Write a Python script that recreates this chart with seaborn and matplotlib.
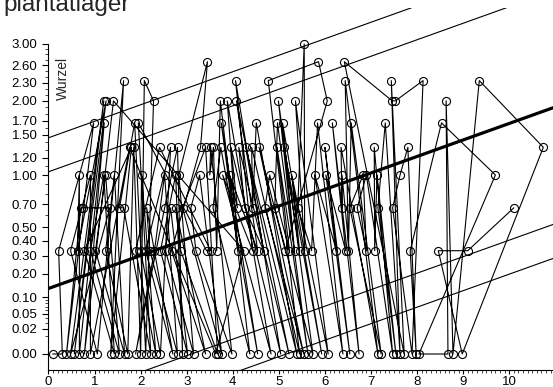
import numpy as np
import pandas as pd
import matplotlib
matplotlib.use("Agg")
import matplotlib.pyplot as plt
import seaborn as sns

title = "plantatlager"
y_name = "Wurzel"

# observations in recording order: time and root score
obs_x = [
    0.09, 0.30, 0.22, 0.98, 0.39, 0.70, 0.74, 1.33, 0.48, 1.20,
    0.56, 1.25, 0.63, 0.67, 0.67, 1.21, 0.78, 1.41, 4.24, 3.63,
    1.76, 0.91, 0.91, 0.48, 1.06, 1.63, 1.35, 1.80, 0.78, 1.43,
    1.20, 0.91, 1.54, 1.24, 1.02, 1.65, 1.43, 1.24, 1.72, 1.85,
    2.00, 2.08, 2.28, 2.11, 1.87, 1.54, 1.63, 2.22, 1.95, 3.43,
    3.52, 2.41, 1.89, 2.33, 2.02, 2.00, 2.43, 2.65, 2.11, 2.70,
    2.13, 2.20, 2.80, 2.52, 2.30, 1.89, 2.52, 2.80, 2.91, 2.76,
    2.43, 3.02, 2.65, 2.54, 3.15, 2.83, 3.45, 3.30, 2.67, 3.41,
    2.76, 2.87, 3.67, 3.41, 2.91, 3.76, 3.28, 3.09, 3.20, 3.98,
    3.52, 3.50, 3.58, 3.65, 3.73, 4.37, 3.57, 3.74, 4.54, 3.75,
    4.11, 3.88, 4.83, 3.78, 4.43, 4.06, 5.04, 3.96, 4.10, 3.93,
    4.54, 4.08, 5.22, 4.13, 4.26, 4.67, 4.28, 5.39, 4.51, 4.43,
    4.41, 5.45, 4.77, 5.86, 6.05, 5.14, 4.57, 5.54, 4.70, 4.80,
    5.23, 4.96, 5.63, 4.97, 4.91, 5.74, 4.99, 5.34, 5.08, 5.93,
    5.11, 5.45, 5.28, 6.07, 5.36, 5.56, 5.55, 5.41, 5.71, 5.84,
    6.39, 5.78, 6.25, 6.00, 6.54, 6.02, 6.45, 6.16, 6.74, 6.37,
    6.37, 6.35, 7.15, 6.44, 6.51, 6.57, 7.22, 6.54, 6.83, 6.90,
    6.70, 6.90, 7.47, 7.07, 7.08, 7.13, 7.54, 7.15, 7.31, 7.63,
    7.44, 7.72, 6.42, 7.46, 7.53, 8.13, 7.89, 7.47, 7.63, 7.80,
    7.98, 7.85, 8.53, 9.70, 8.04, 8.67, 8.63, 8.78, 9.35, 10.74,
    8.98, 8.46, 9.10, 10.10,
]
obs_y = [
    0.0, 0.0, 0.333, 1.667, 0.0, 0.667, 0.667, 0.667, 0.0, 2.0,
    0.0, 2.0, 0.333, 1.0, 0.0, 1.667, 0.0, 2.0, 0.333, 0.0,
    1.333, 0.0, 1.0, 0.333, 0.0, 2.333, 0.0, 1.333, 0.333, 0.0,
    1.0, 0.333, 0.0, 1.0, 0.333, 0.0, 1.0, 0.333, 0.0, 1.333,
    0.0, 2.333, 2.0, 0.0, 1.667, 0.667, 0.667, 0.0, 1.667, 0.333,
    0.333, 1.333, 0.333, 0.0, 1.0, 0.333, 0.0, 1.333, 0.333, 0.0,
    0.667, 0.333, 0.0, 1.0, 0.333, 0.0, 0.667, 1.333, 0.0, 1.0,
    0.333, 0.0, 0.667, 0.333, 0.0, 1.0, 2.667, 1.333, 0.333, 0.0,
    0.667, 0.333, 0.0, 1.333, 0.667, 0.0, 1.0, 0.667, 0.333, 0.0,
    1.333, 1.0, 1.333, 0.333, 2.0, 0.0, 0.667, 1.333, 0.0, 1.667,
    0.333, 2.0, 0.0, 1.0, 0.333, 2.333, 0.0, 1.333, 0.667, 1.0,
    0.333, 2.0, 0.0, 1.333, 0.667, 0.333, 1.333, 0.0, 1.667, 0.667,
    1.333, 0.0, 2.333, 2.667, 2.0, 0.333, 1.333, 0.0, 0.667, 1.0,
    0.333, 1.333, 0.0, 1.667, 0.667, 0.0, 2.0, 0.333, 1.667, 0.0,
    1.333, 0.333, 1.0, 0.0, 2.0, 0.333, 3.0, 0.667, 0.333, 1.667,
    0.0, 1.0, 0.333, 1.333, 0.0, 1.0, 0.333, 1.667, 0.0, 1.0,
    0.667, 1.333, 0.0, 2.333, 0.333, 1.667, 0.0, 0.667, 1.0, 0.333,
    0.667, 1.0, 0.0, 1.333, 0.333, 1.0, 0.0, 0.667, 1.667, 0.0,
    2.333, 0.0, 2.667, 2.0, 2.0, 2.333, 0.0, 0.667, 1.0, 1.333,
    0.0, 0.333, 1.667, 1.0, 0.0, 0.0, 2.0, 0.0, 2.333, 1.333,
    0.0, 0.333, 0.333, 0.667,
]

# straight-line fit on the root scale, with two pairs of parallel bands
fit_intercept = 0.366
fit_slope = 0.0922
band_inner = 0.652
band_outer = 0.842

y_ticks = [0.00, 0.02, 0.05, 0.10, 0.20, 0.30, 0.40, 0.50, 0.70,
           1.00, 1.20, 1.50, 1.70, 2.00, 2.30, 2.60, 3.00]
x_ticks = [0, 1, 2, 3, 4, 5, 6, 7, 8, 9, 10]


def root(v):
    v = np.asarray(v, dtype=float)
    return np.sign(v) * np.sqrt(np.abs(v))


def unroot(t):
    t = np.asarray(t, dtype=float)
    return np.sign(t) * t ** 2


sns.set_style("ticks")
plt.rcParams["font.family"] = ["Liberation Sans", "DejaVu Sans"]

W, H = 553, 387
fig = plt.figure(figsize=(W / 100, H / 100), dpi=100)
ax = fig.add_axes([48.5 / W, 17 / H, (W - 48.5) / W, (379 - 17) / H])
ax.set_yscale("function", functions=(root, unroot))

df = pd.DataFrame({"x": obs_x, "y": obs_y})
sns.lineplot(data=df, x="x", y="y", sort=False, estimator=None,
             color="black", lw=0.8, marker="o", ms=5.8, mfc="none",
             mec="black", mew=0.8, ax=ax)

xs = np.linspace(0, 11.5, 300)
t = fit_intercept + fit_slope * xs
ax.plot(xs, unroot(t), color="black", lw=2.3, solid_capstyle="butt")
for off in (band_inner, band_outer, -band_inner, -band_outer):
    ax.plot(xs, unroot(t + off), color="black", lw=0.8)

ax.set_xlim(0, 10.95)
ax.set_ylim(unroot(-0.0894), unroot(1.933))

ax.set_yticks(y_ticks)
ax.set_yticklabels([f"{v:.2f}" for v in y_ticks])
y_minor = np.r_[np.arange(0.01, 0.1, 0.01), np.arange(0.1, 3.01, 0.1)]
ax.set_yticks(y_minor, minor=True)
ax.set_xticks(x_ticks)
ax.set_xticklabels([str(v) for v in x_ticks])
ax.set_xticks(np.arange(0, 10.95, 0.1), minor=True)

ax.set_xlabel("")
ax.set_ylabel("")
for side in ("top", "right"):
    ax.spines[side].set_visible(False)
ax.spines["left"].set_bounds(unroot(-0.0894), 3.0)
for side in ("left", "bottom"):
    ax.spines[side].set_linewidth(0.8)
    ax.spines[side].set_color("black")

ax.tick_params(axis="y", which="major", direction="out", length=4,
               width=0.8, labelsize=9.5, pad=4, colors="black")
ax.tick_params(axis="y", which="minor", direction="out", length=2, width=0.6)
ax.tick_params(axis="x", which="major", direction="out", length=3,
               width=0.8, labelsize=9.5, pad=1, colors="black")
ax.tick_params(axis="x", which="minor", direction="out", length=2, width=0.6)

fig.text(3 / W, 1 - 11 / H, title, fontsize=17.5, ha="left", va="baseline")
fig.text(63 / W, 1 - 78 / H, y_name, fontsize=10, rotation=90,
         ha="center", va="center")

fig.savefig("out.png", dpi=100)
